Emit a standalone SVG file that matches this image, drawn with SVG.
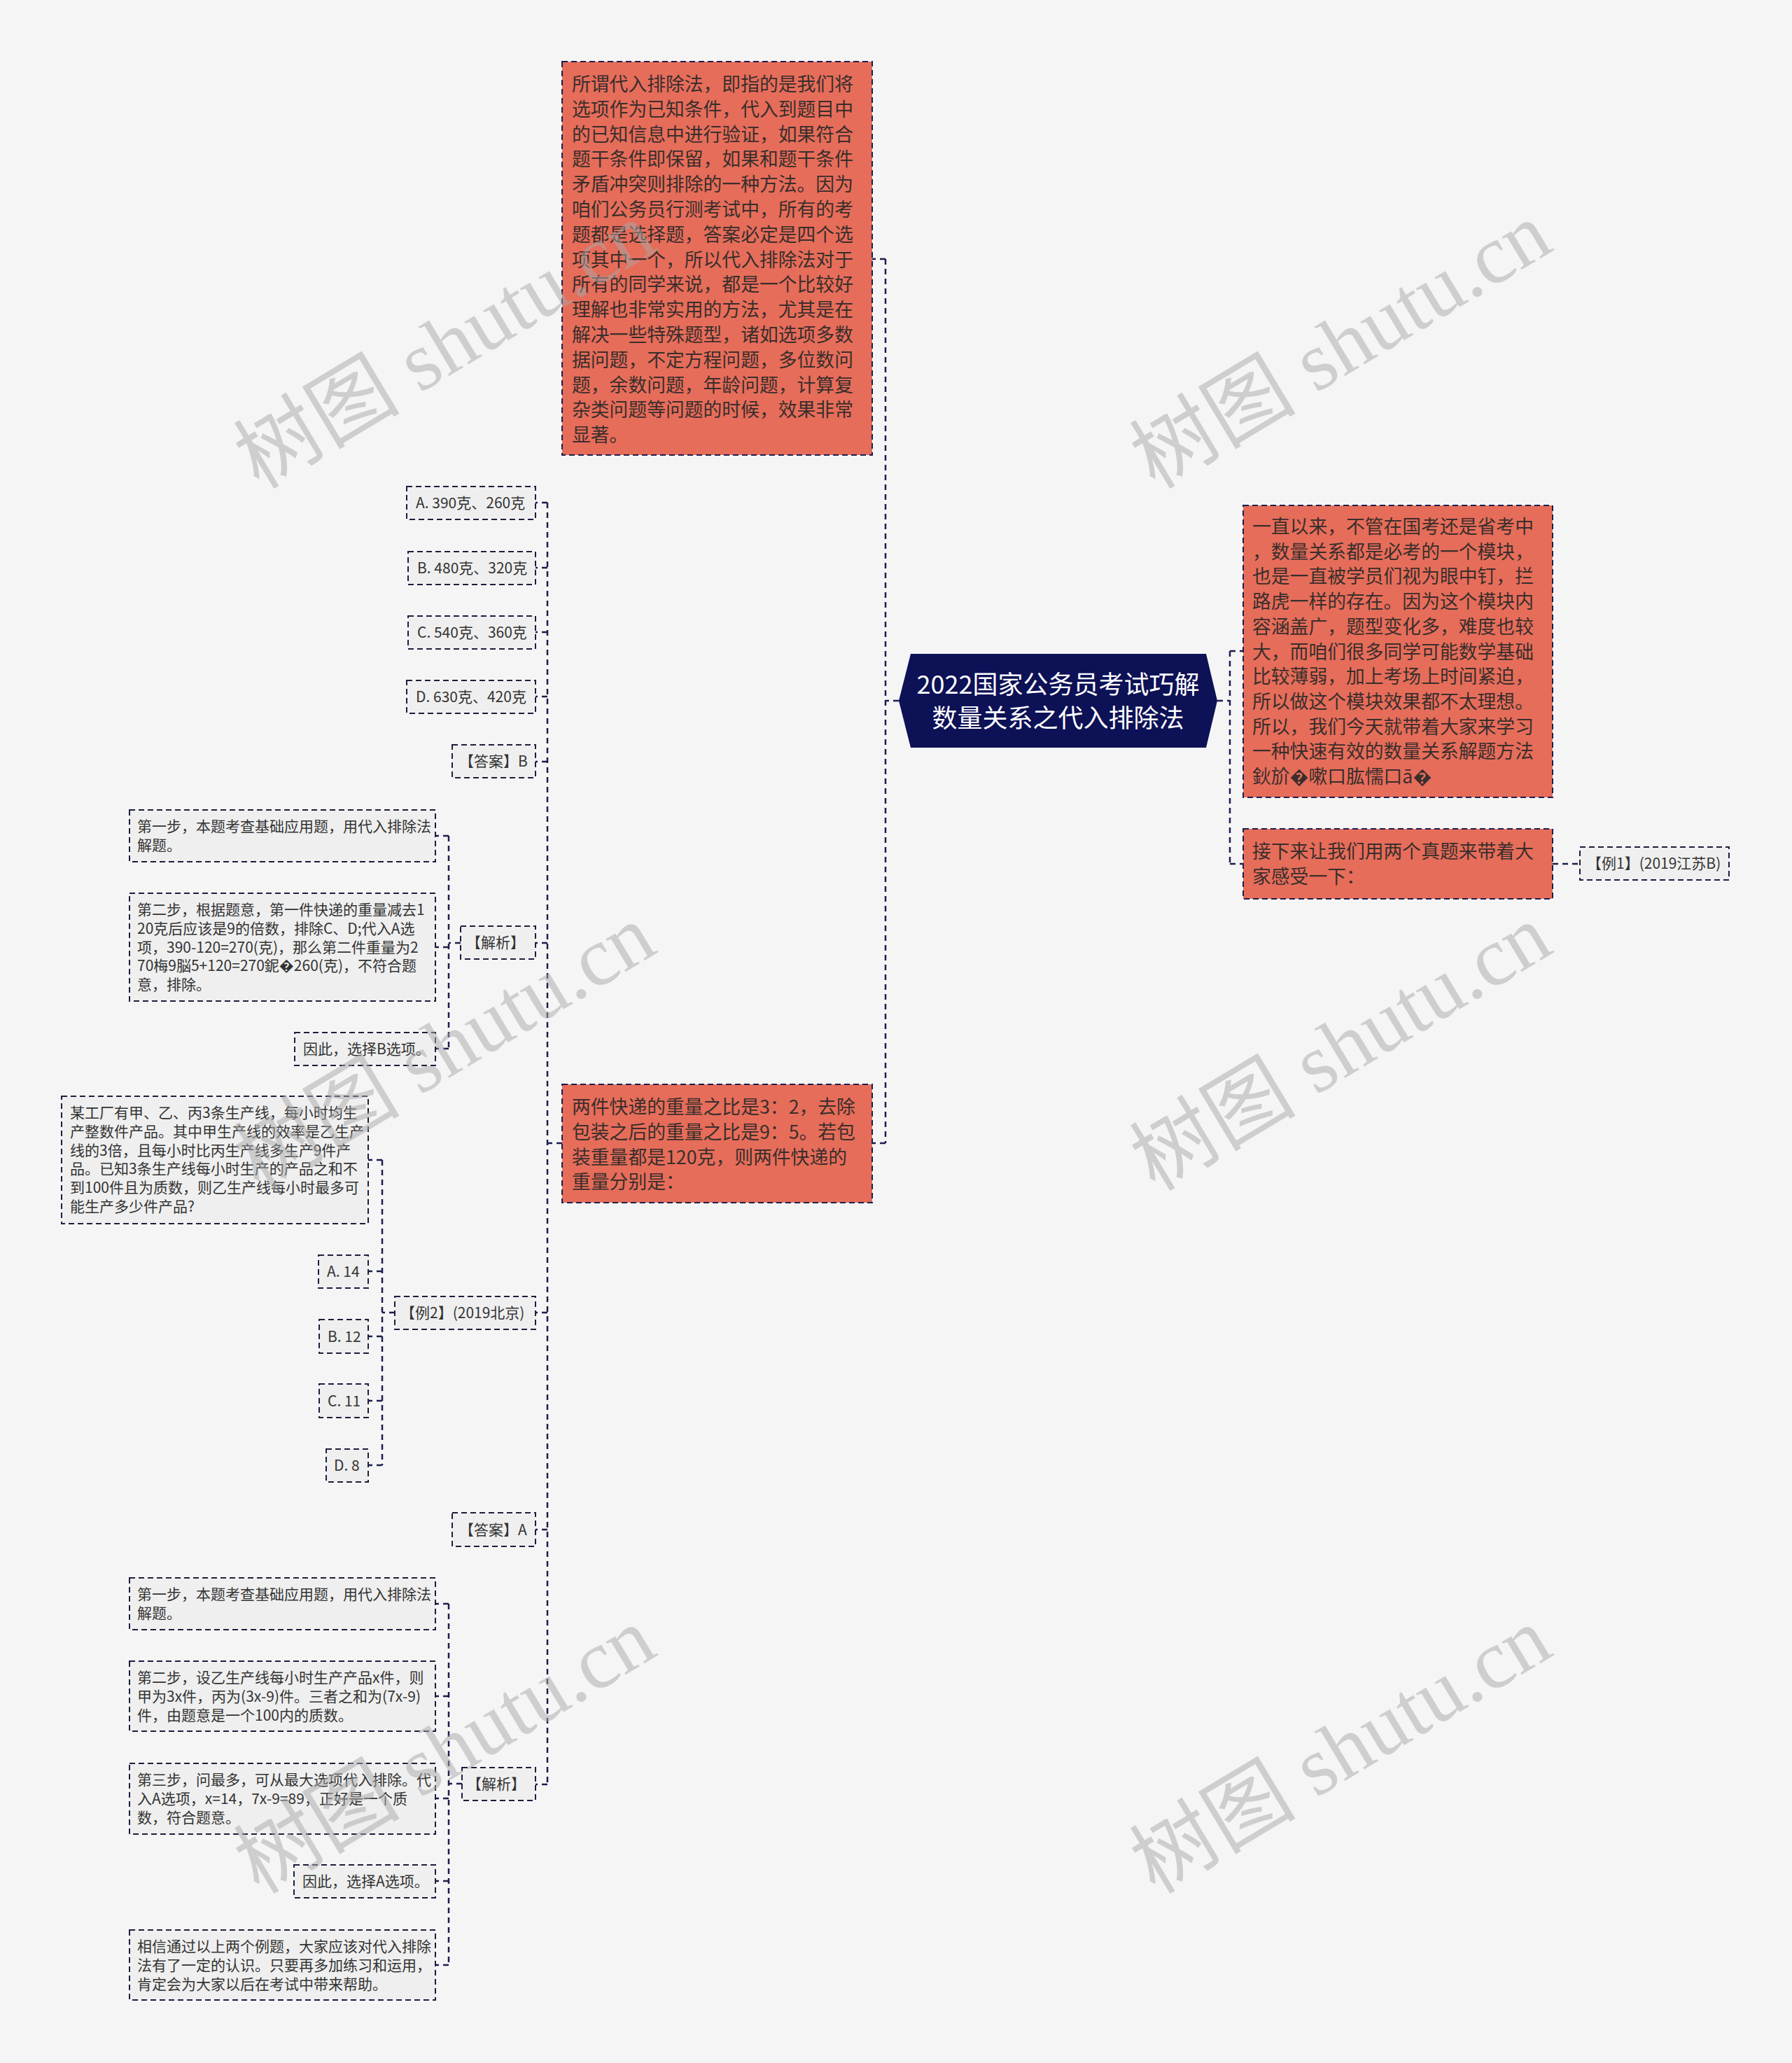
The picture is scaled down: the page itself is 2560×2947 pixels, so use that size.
<svg xmlns="http://www.w3.org/2000/svg" width="2560" height="2947" viewBox="0 0 2560 2947">
<style>
.bg{fill:#f5f5f5}
.hl{fill:#e66d5a;stroke:#1c1e4e;stroke-width:2;stroke-dasharray:8 5}
.sb{fill:#efefef;stroke:#1c1e3e;stroke-width:2;stroke-dasharray:8 5}
.root{fill:#0d1156}
.conn{fill:none;stroke:#1c1e4e;stroke-width:2.5;stroke-dasharray:8 6}
.rt{font-family:"Noto Sans CJK SC","Noto Sans",sans-serif;font-size:36px;fill:#ffffff;text-anchor:middle}
.ht{font-family:"Noto Sans CJK SC","Noto Sans",sans-serif;font-size:26.8px;fill:#3a2e2c}
.st{font-family:"Noto Sans CJK SC","Noto Sans",sans-serif;font-size:21px;fill:#333333}
.wm{font-family:"Liberation Serif","Noto Sans CJK SC",serif;font-size:119px;fill:#a8a8a8;opacity:0.5}
</style>
<rect class="bg" x="0" y="0" width="2560" height="2947"/>

<g id="connectors">
  <path class="conn" d="M1284,1001 H1265 M1265,370 V1633 M1265,370 H1246 M1265,1633 H1246"/>
  <path class="conn" d="M1739,1001 H1757 M1757,930 V1234 M1757,930 H1776 M1757,1234 H1776"/>
  <path class="conn" d="M2218,1234 H2257"/>
  <path class="conn" d="M803,1633 H782 M782,718 V2549 M782,718 H765 M782,811 H765 M782,903 H765 M782,995 H765 M782,1088 H765 M782,1347 H765 M782,1875 H765 M782,2185 H765 M782,2549 H765"/>
  <path class="conn" d="M658,1347 H641 M641,1194 V1498 M641,1194 H622 M641,1353 H622 M641,1498 H622"/>
  <path class="conn" d="M564,1875 H546 M546,1657 V2093 M546,1657 H526 M546,1816 H526 M546,1909 H526 M546,2001 H526 M546,2093 H526"/>
  <path class="conn" d="M660,2548 H641 M641,2291 V2807 M641,2291 H622 M641,2423 H622 M641,2569 H622 M641,2687 H622 M641,2807 H622"/>
</g>

<g id="root">
  <polygon class="root" points="1284,1001 1301,934 1723,934 1739,1001 1723,1068 1301,1068"/>
  <text class="rt" x="1511.5" y="991">2022国家公务员考试巧解</text>
  <text class="rt" x="1511.5" y="1039">数量关系之代入排除法</text>
</g>

<g id="node-intro-method">
  <rect class="hl" x="803" y="88" width="443" height="562"/>
  <text class="ht">
    <tspan x="817" y="130">所谓代入排除法，即指的是我们将</tspan>
    <tspan x="817" y="165.8">选项作为已知条件，代入到题目中</tspan>
    <tspan x="817" y="201.6">的已知信息中进行验证，如果符合</tspan>
    <tspan x="817" y="237.4">题干条件即保留，如果和题干条件</tspan>
    <tspan x="817" y="273.2">矛盾冲突则排除的一种方法。因为</tspan>
    <tspan x="817" y="309">咱们公务员行测考试中，所有的考</tspan>
    <tspan x="817" y="344.8">题都是选择题，答案必定是四个选</tspan>
    <tspan x="817" y="380.6">项其中一个，所以代入排除法对于</tspan>
    <tspan x="817" y="416.4">所有的同学来说，都是一个比较好</tspan>
    <tspan x="817" y="452.2">理解也非常实用的方法，尤其是在</tspan>
    <tspan x="817" y="488">解决一些特殊题型，诸如选项多数</tspan>
    <tspan x="817" y="523.8">据问题，不定方程问题，多位数问</tspan>
    <tspan x="817" y="559.6">题，余数问题，年龄问题，计算复</tspan>
    <tspan x="817" y="595.4">杂类问题等问题的时候，效果非常</tspan>
    <tspan x="817" y="631.2">显著。</tspan>
  </text>
</g>

<g id="node-question1">
  <rect class="hl" x="803" y="1549" width="443" height="169"/>
  <text class="ht">
    <tspan x="817" y="1591">两件快递的重量之比是3：2，去除</tspan>
    <tspan x="817" y="1626.8">包装之后的重量之比是9：5。若包</tspan>
    <tspan x="817" y="1662.6">装重量都是120克，则两件快递的</tspan>
    <tspan x="817" y="1698.4">重量分别是：</tspan>
  </text>
</g>

<g id="node-intro-right">
  <rect class="hl" x="1776" y="722" width="442" height="417"/>
  <text class="ht">
    <tspan x="1789" y="762">一直以来，不管在国考还是省考中</tspan>
    <tspan x="1789" y="797.7">，数量关系都是必考的一个模块，</tspan>
    <tspan x="1789" y="833.4">也是一直被学员们视为眼中钉，拦</tspan>
    <tspan x="1789" y="869.1">路虎一样的存在。因为这个模块内</tspan>
    <tspan x="1789" y="904.8">容涵盖广，题型变化多，难度也较</tspan>
    <tspan x="1789" y="940.5">大，而咱们很多同学可能数学基础</tspan>
    <tspan x="1789" y="976.2">比较薄弱，加上考场上时间紧迫，</tspan>
    <tspan x="1789" y="1011.9">所以做这个模块效果都不太理想。</tspan>
    <tspan x="1789" y="1047.6">所以，我们今天就带着大家来学习</tspan>
    <tspan x="1789" y="1083.3">一种快速有效的数量关系解题方法</tspan>
    <tspan x="1789" y="1119">鈥斺�嗽口肱懦口ā�</tspan>
  </text>
</g>

<g id="node-next">
  <rect class="hl" x="1776" y="1184" width="442" height="100"/>
  <text class="ht">
    <tspan x="1789" y="1226">接下来让我们用两个真题来带着大</tspan>
    <tspan x="1789" y="1262">家感受一下：</tspan>
  </text>
</g>

<g id="node-example1">
  <rect class="sb" x="2257" y="1210" width="213" height="47"/>
  <text class="st" x="2267" y="1241">【例1】(2019江苏B)</text>
</g>

<g id="node-opt-a1"><rect class="sb" x="581" y="695" width="184" height="47"/><text class="st" x="594" y="726">A. 390克、260克</text></g>
<g id="node-opt-b1"><rect class="sb" x="583" y="788" width="182" height="47"/><text class="st" x="596" y="819">B. 480克、320克</text></g>
<g id="node-opt-c1"><rect class="sb" x="583" y="880" width="182" height="47"/><text class="st" x="596" y="911">C. 540克、360克</text></g>
<g id="node-opt-d1"><rect class="sb" x="581" y="972" width="184" height="47"/><text class="st" x="594" y="1003">D. 630克、420克</text></g>
<g id="node-answer1"><rect class="sb" x="646" y="1064" width="119" height="47"/><text class="st" x="656" y="1095">【答案】B</text></g>
<g id="node-analysis1"><rect class="sb" x="658" y="1323" width="107" height="47"/><text class="st" x="666" y="1354">【解析】</text></g>

<g id="node-a1-step1">
  <rect class="sb" x="185" y="1157" width="437" height="74"/>
  <text class="st"><tspan x="196" y="1188">第一步，本题考查基础应用题，用代入排除法</tspan><tspan x="196" y="1214.8">解题。</tspan></text>
</g>
<g id="node-a1-step2">
  <rect class="sb" x="185" y="1276" width="437" height="154"/>
  <text class="st">
    <tspan x="196" y="1307">第二步，根据题意，第一件快递的重量减去1</tspan>
    <tspan x="196" y="1333.8">20克后应该是9的倍数，排除C、D;代入A选</tspan>
    <tspan x="196" y="1360.6">项，390-120=270(克)，那么第二件重量为2</tspan>
    <tspan x="196" y="1387.4">70梅9脳5+120=270鈮�260(克)，不符合题</tspan>
    <tspan x="196" y="1414.2">意，排除。</tspan>
  </text>
</g>
<g id="node-a1-conclusion"><rect class="sb" x="421" y="1475" width="201" height="47"/><text class="st" x="433" y="1506">因此，选择B选项。</text></g>

<g id="node-example2"><rect class="sb" x="564" y="1852" width="201" height="47"/><text class="st" x="572" y="1883">【例2】(2019北京)</text></g>
<g id="node-q2">
  <rect class="sb" x="88" y="1566" width="438" height="182"/>
  <text class="st">
    <tspan x="100" y="1597">某工厂有甲、乙、丙3条生产线，每小时均生</tspan>
    <tspan x="100" y="1623.8">产整数件产品。其中甲生产线的效率是乙生产</tspan>
    <tspan x="100" y="1650.6">线的3倍，且每小时比丙生产线多生产9件产</tspan>
    <tspan x="100" y="1677.4">品。已知3条生产线每小时生产的产品之和不</tspan>
    <tspan x="100" y="1704.2">到100件且为质数，则乙生产线每小时最多可</tspan>
    <tspan x="100" y="1731">能生产多少件产品?</tspan>
  </text>
</g>
<g id="node-opt-a2"><rect class="sb" x="455" y="1793" width="71" height="47"/><text class="st" x="467" y="1824">A. 14</text></g>
<g id="node-opt-b2"><rect class="sb" x="456" y="1885" width="70" height="48"/><text class="st" x="468" y="1917">B. 12</text></g>
<g id="node-opt-c2"><rect class="sb" x="456" y="1977" width="70" height="48"/><text class="st" x="468" y="2009">C. 11</text></g>
<g id="node-opt-d2"><rect class="sb" x="466" y="2070" width="60" height="47"/><text class="st" x="477" y="2101">D. 8</text></g>

<g id="node-answer2"><rect class="sb" x="646" y="2161" width="119" height="48"/><text class="st" x="656" y="2193">【答案】A</text></g>
<g id="node-analysis2"><rect class="sb" x="660" y="2525" width="105" height="47"/><text class="st" x="667" y="2556">【解析】</text></g>

<g id="node-a2-step1">
  <rect class="sb" x="185" y="2254" width="437" height="74"/>
  <text class="st"><tspan x="196" y="2285">第一步，本题考查基础应用题，用代入排除法</tspan><tspan x="196" y="2311.8">解题。</tspan></text>
</g>
<g id="node-a2-step2">
  <rect class="sb" x="185" y="2373" width="437" height="100"/>
  <text class="st">
    <tspan x="196" y="2404">第二步，设乙生产线每小时生产产品x件，则</tspan>
    <tspan x="196" y="2430.8">甲为3x件，丙为(3x-9)件。三者之和为(7x-9)</tspan>
    <tspan x="196" y="2457.6">件，由题意是一个100内的质数。</tspan>
  </text>
</g>
<g id="node-a2-step3">
  <rect class="sb" x="185" y="2519" width="437" height="101"/>
  <text class="st">
    <tspan x="196" y="2550">第三步，问最多，可从最大选项代入排除。代</tspan>
    <tspan x="196" y="2576.8">入A选项，x=14，7x-9=89，正好是一个质</tspan>
    <tspan x="196" y="2603.6">数，符合题意。</tspan>
  </text>
</g>
<g id="node-a2-conclusion"><rect class="sb" x="420" y="2664" width="202" height="47"/><text class="st" x="432" y="2695">因此，选择A选项。</text></g>
<g id="node-summary">
  <rect class="sb" x="185" y="2757" width="437" height="100"/>
  <text class="st">
    <tspan x="196" y="2788">相信通过以上两个例题，大家应该对代入排除</tspan>
    <tspan x="196" y="2814.8">法有了一定的认识。只要再多加练习和运用，</tspan>
    <tspan x="196" y="2841.6">肯定会为大家以后在考试中带来帮助。</tspan>
  </text>
</g>

<g id="watermarks">
  <text class="wm" transform="translate(370,700) rotate(-31)">树图 shutu.cn</text>
  <text class="wm" transform="translate(1650,700) rotate(-31)">树图 shutu.cn</text>
  <text class="wm" transform="translate(370,1703) rotate(-31)">树图 shutu.cn</text>
  <text class="wm" transform="translate(1650,1703) rotate(-31)">树图 shutu.cn</text>
  <text class="wm" transform="translate(370,2707) rotate(-31)">树图 shutu.cn</text>
  <text class="wm" transform="translate(1650,2707) rotate(-31)">树图 shutu.cn</text>
</g>
</svg>
